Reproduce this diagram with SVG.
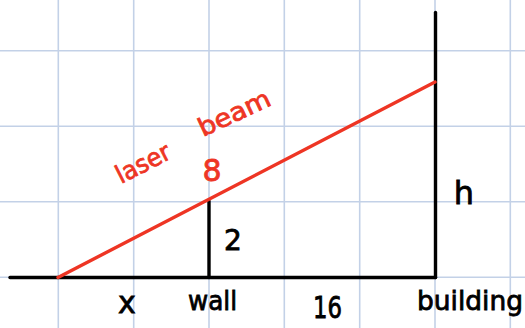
<svg xmlns="http://www.w3.org/2000/svg" width="525" height="328" viewBox="0 0 525 328">
<style>
.grid line{stroke:#c3d1e7;stroke-width:1.6}
.blk{stroke:#000;stroke-width:3.4;stroke-linecap:round;fill:none}
.red{stroke:#ee3524;stroke-width:3.4;stroke-linecap:round;fill:none}
.t{font-family:"DejaVu Sans","Liberation Sans",sans-serif;fill:#000;stroke:#000;stroke-width:0.8}
.tr{font-family:"DejaVu Sans","Liberation Sans",sans-serif;fill:#ee3524;stroke:#ee3524;stroke-width:0.8}
</style>
<rect width="525" height="328" fill="#fff"/>
<g class="grid" id="grid">
<line x1="58.3" y1="0" x2="58.3" y2="328"/>
<line x1="133.7" y1="0" x2="133.7" y2="328"/>
<line x1="209" y1="0" x2="209" y2="328"/>
<line x1="284.3" y1="0" x2="284.3" y2="328"/>
<line x1="359.7" y1="0" x2="359.7" y2="328"/>
<line x1="435" y1="0" x2="435" y2="328"/>
<line x1="510.3" y1="0" x2="510.3" y2="328"/>
<line x1="0" y1="50.7" x2="525" y2="50.7"/>
<line x1="0" y1="126.3" x2="525" y2="126.3"/>
<line x1="0" y1="201.7" x2="525" y2="201.7"/>
<line x1="0" y1="277.3" x2="525" y2="277.3"/>
</g>
<g id="connectors">
<line class="blk" x1="10" y1="277.5" x2="435.5" y2="277.5"/>
<line class="blk" x1="435.5" y1="12.5" x2="435.5" y2="277.5"/>
<line class="blk" x1="209" y1="201" x2="209" y2="277.5"/>
<line class="red" x1="58" y1="277.5" x2="435" y2="82"/>
</g>
<g id="laser-label">
<text class="tr" transform="translate(121,184) rotate(-27)" font-size="25" textLength="58" lengthAdjust="spacingAndGlyphs">laser</text>
<text class="tr" transform="translate(203,137) rotate(-25)" font-size="25" textLength="77" lengthAdjust="spacingAndGlyphs">beam</text>
</g>
<g id="label-8"><text class="tr" x="212" y="181" font-size="30" text-anchor="middle">8</text></g>
<g id="label-2"><text class="t" x="233" y="250" font-size="28" text-anchor="middle">2</text></g>
<g id="label-h"><text class="t" x="464" y="204" font-size="32" text-anchor="middle">h</text></g>
<g id="label-x"><text class="t" x="127" y="313" font-size="30" text-anchor="middle">x</text></g>
<g id="label-wall"><text class="t" x="188" y="310" font-size="26" textLength="49" lengthAdjust="spacingAndGlyphs">wall</text></g>
<g id="label-16"><text class="t" x="313" y="318" font-size="30" textLength="29" lengthAdjust="spacingAndGlyphs">16</text></g>
<g id="label-building"><text class="t" x="417" y="310" font-size="26" textLength="106" lengthAdjust="spacingAndGlyphs">building</text></g>
</svg>
